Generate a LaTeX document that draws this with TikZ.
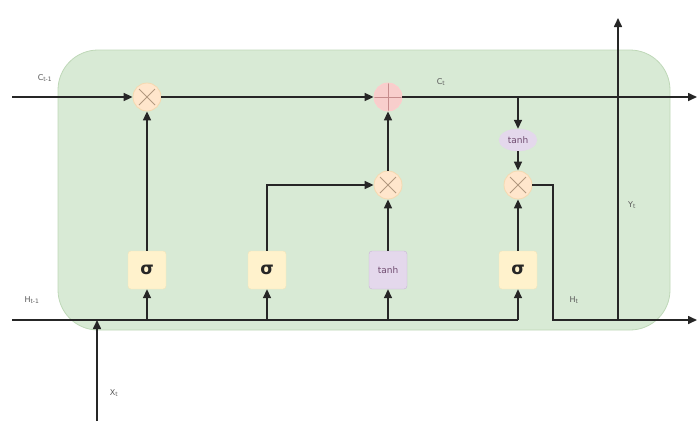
\documentclass[tikz,border=0pt]{standalone}
\usepackage{fontspec}
\newfontfamily\dv{DejaVu Sans}
\usetikzlibrary{arrows.meta,shapes.geometric,calc}
\definecolor{cellg}{HTML}{D8EAD5}
\definecolor{cellb}{HTML}{BFD8B8}
\definecolor{mulf}{HTML}{FFE6CC}
\definecolor{mulb}{HTML}{F5D9B0}
\definecolor{addf}{HTML}{F8CECC}
\definecolor{gatef}{HTML}{FFF2CC}
\definecolor{gateb}{HTML}{F3E4B8}
\definecolor{tanf}{HTML}{E4D8EC}
\definecolor{tanb}{HTML}{C9B6D6}
\begin{document}
\begin{tikzpicture}[x=1pt,y=-1pt,
  wire/.style={draw=black!85,line width=1.6pt},
  arr/.style={wire,-{Triangle[length=9pt,width=8pt]}},
  op/.style={circle,minimum size=28pt,inner sep=0pt,line width=0.8pt},
  mul/.style={op,fill=mulf,draw=mulb,
    path picture={\draw[orange!40!black!50,line width=0.9pt]
      ($(path picture bounding box.center)+(-8,-8)$) -- ($(path picture bounding box.center)+(8,8)$)
      ($(path picture bounding box.center)+(-8,8)$) -- ($(path picture bounding box.center)+(8,-8)$);}},
  addop/.style={op,fill=addf,draw=red!20,
    path picture={\draw[red!50!black!45,line width=0.9pt]
      ($(path picture bounding box.center)+(-14,0)$) -- ($(path picture bounding box.center)+(14,0)$)
      ($(path picture bounding box.center)+(0,-14)$) -- ($(path picture bounding box.center)+(0,14)$);}},
  gatebox/.style={rectangle,rounded corners=3pt,minimum width=38pt,minimum height=38pt,inner sep=0pt,fill=gatef,draw=gateb,font=\dv\LARGE\bfseries,text=black!85},
  tanhbox/.style={gatebox,fill=tanf,draw=tanb,font=\dv\small,text=violet!40!black!70},
  tanhell/.style={ellipse,minimum width=38pt,minimum height=22pt,inner sep=0pt,fill=tanf,draw=tanf,font=\dv\small,text=violet!40!black!70},
  lbl/.style={font=\dv\footnotesize,text=black!65}
]
\useasboundingbox (0,0) rectangle (697,421);
\draw[fill=cellg,draw=cellb,line width=0.8pt,rounded corners=40pt] (58,50) rectangle (670,330);

% operation nodes
\node[mul] (m1) at (147,97) {};
\node[addop] (pl) at (388,97) {};
\node[mul] (m2) at (388,185) {};
\node[mul] (m3) at (518,185) {};
\node[tanhell] (te) at (518,140) {tanh};

% gate boxes
\node[gatebox] (s1) at (147,270) {σ};
\node[gatebox] (s2) at (267,270) {σ};
\node[tanhbox] (tb) at (388,270) {tanh};
\node[gatebox] (s3) at (518,270) {σ};

% coordinates
\coordinate (cin) at (12,97);
\coordinate (cout) at (697,97);
\coordinate (hin) at (12,320);
\coordinate (hend) at (518,320);
\coordinate (xin) at (97,421);
\coordinate (xj) at (97,320);
\coordinate (hc1) at (553,185);
\coordinate (hc2) at (553,320);
\coordinate (yj) at (618,320);
\coordinate (yout) at (618,18);
\coordinate (hout) at (697,320);
\coordinate (ctap) at (518,97);

% cell state line
\draw[arr] (cin) -- (m1);
\draw[arr] (m1) -- (pl);
\draw[arr] (pl) -- (cout);
\draw[arr] (ctap) -- (te);
\draw[arr] (te) -- (m3);

% hidden line
\draw[wire] (hin) -- (hend);
\draw[arr] (xin) -- (xj);
\draw[arr] (s1.south |- hin) -- (s1);
\draw[arr] (s2.south |- hin) -- (s2);
\draw[arr] (tb.south |- hin) -- (tb);
\draw[arr] (hend) -- (s3);

% gate outputs
\draw[arr] (s1) -- (m1);
\draw[arr] (s2.north) |- (m2);
\draw[arr] (tb) -- (m2);
\draw[arr] (m2) -- (pl);
\draw[arr] (s3) -- (m3);

% output
\draw[wire] (m3) -- (hc1) -- (hc2) -- (yj);
\draw[arr] (yj) -- (hout);
\draw[arr] (yj) -- (yout);

% labels
\node[lbl] (lc0) at (45,78) {C\textsubscript{t-1}};
\node[lbl] (lc1) at (441,82) {C\textsubscript{t}};
\node[lbl] (lh0) at (32,300) {H\textsubscript{t-1}};
\node[lbl] (lh1) at (574,300) {H\textsubscript{t}};
\node[lbl] (lx) at (114,393) {X\textsubscript{t}};
\node[lbl] (ly) at (632,205) {Y\textsubscript{t}};
\end{tikzpicture}
\end{document}
